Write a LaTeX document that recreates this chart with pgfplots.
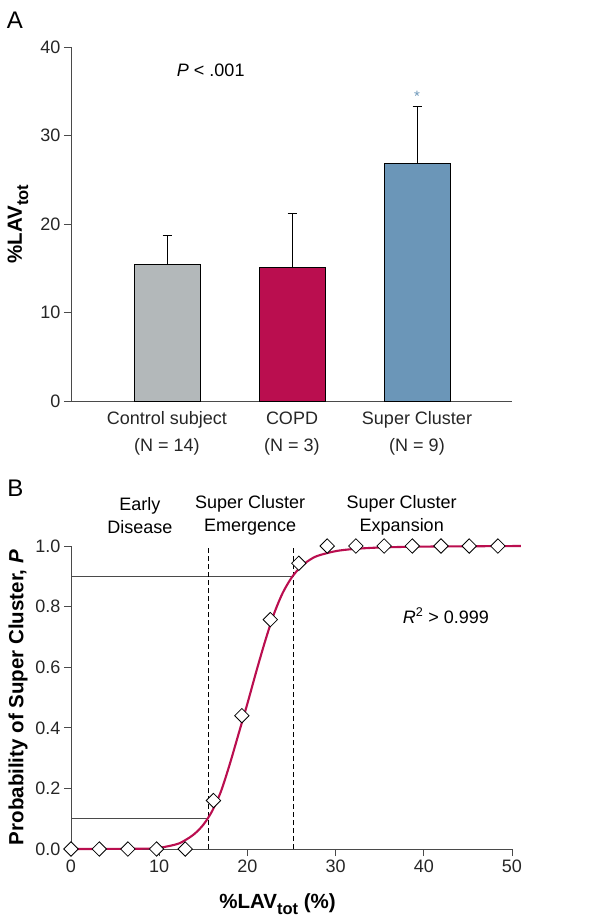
\documentclass[border=0pt]{standalone}
\usepackage{fontspec}
\setmainfont{Liberation Sans}
\usepackage{pgfplots}
\pgfplotsset{compat=1.18}
\definecolor{ctrlgray}{HTML}{B3B8BA}
\definecolor{copdred}{HTML}{BA0E4F}
\definecolor{scblue}{HTML}{6B96B8}
\definecolor{axisgray}{HTML}{4A4A4A}
\newcommand{\subtot}{\raisebox{-0.3em}{\fontsize{16.5}{16.5}\selectfont\bfseries tot}}

\begin{document}
\begin{tikzpicture}
\useasboundingbox (0pt,0pt) rectangle (599pt,-917pt);
\pgfplotsset{
    panel/.style={
        scale only axis,
        axis lines=left,
        axis line style={-, axisgray, line width=0.9pt},
        tick align=outside,
        major tick length=7pt,
        tick style={axisgray, line width=0.9pt},
        tick label style={font=\fontsize{18}{22}\selectfont, text=black!85},
        label style={font=\fontsize{20.5}{24}\selectfont\bfseries},
        /pgf/number format/assume math mode=true,
        enlargelimits=false,
    }
}
\node[font=\fontsize{24}{24}\selectfont] at (15pt,-20pt) {A};
\node[font=\fontsize{24}{24}\selectfont] at (15.5pt,-488.5pt) {B};

% Panel A: bar chart
\begin{axis}[
    panel,
    at={(71pt,-401pt)}, anchor=south west,
    width=441pt, height=354pt,
    xmin=0.232, xmax=3.76,
    ymin=0, ymax=40,
    ytick={0,10,20,30,40},
    xtick={1,2,3},
    xtick style={draw=none},
    xticklabels={{Control subject\\(N = 14)},{COPD\\(N = 3)},{Super Cluster\\(N = 9)}},
    xticklabel style={align=center, font=\fontsize{18}{27}\selectfont},
    ylabel={\%LAV\subtot},
    ylabel style={at={(axis description cs:0,0.5)}, anchor=center, yshift=53pt},
    clip=false,
]
\addplot[ybar, bar width=66pt, bar shift=0pt, fill=ctrlgray, draw=black, line width=0.8pt]
    coordinates {(1,15.45)};
\addplot[ybar, bar width=66pt, bar shift=0pt, fill=copdred, draw=black, line width=0.8pt]
    coordinates {(2,15.14)};
\addplot[ybar, bar width=66pt, bar shift=0pt, fill=scblue, draw=black, line width=0.8pt]
    coordinates {(3,26.86)};
% error bars (upper half only)
\addplot[black, line width=0.8pt] coordinates {(1,15.45) (1,18.7)};
\addplot[black, line width=0.8pt] coordinates {(0.964,18.7) (1.036,18.7)};
\addplot[black, line width=0.8pt] coordinates {(2,15.14) (2,21.24)};
\addplot[black, line width=0.8pt] coordinates {(1.964,21.24) (2.036,21.24)};
\addplot[black, line width=0.8pt] coordinates {(3,26.86) (3,33.33)};
\addplot[black, line width=0.8pt] coordinates {(2.964,33.33) (3.036,33.33)};
\node[text=scblue, font=\fontsize{15}{15}\selectfont] at (axis cs:3,34.4) {*};
\node[font=\fontsize{18}{22}\selectfont] at (axis cs:1.35,37.4) {\textit{P} < .001};
\end{axis}

% Panel B: logistic fit
\begin{axis}[
    panel,
    at={(71pt,-849pt)}, anchor=south west,
    width=441pt, height=303pt,
    xmin=0, xmax=50,
    ymin=0, ymax=1,
    xtick={0,10,20,30,40,50},
    ytick={0,0.2,0.4,0.6,0.8,1.0},
    yticklabel style={/pgf/number format/.cd, fixed, fixed zerofill, precision=1},
    xlabel={\%LAV\subtot{} (\%)},
    xlabel style={at={(axis description cs:0.5,0)}, anchor=base, yshift=-59pt, xshift=-14pt},
    ylabel={Probability of Super Cluster, \textit{P}},
    ylabel style={at={(axis description cs:0,0.5)}, anchor=center, yshift=53pt},
    clip=false,
]
\addplot[axisgray, line width=1pt] coordinates {(0,0.9) (25.2,0.9)};
\addplot[axisgray, line width=1pt] coordinates {(0,0.1) (15.6,0.1)};
\addplot[black, dash pattern=on 5pt off 3pt, line width=0.7pt] coordinates {(15.6,0) (15.6,1)};
\addplot[black, dash pattern=on 5pt off 3pt, line width=0.7pt] coordinates {(25.2,0) (25.2,1)};
\addplot[copdred, line width=2.1pt, smooth] coordinates {
    (0,0) (8,0.001) (10,0.004) (12,0.016) (13,0.03) (14,0.05) (15,0.08)
    (16,0.125) (17,0.19) (18,0.28) (19,0.38) (20,0.48) (21,0.585)
    (22,0.685) (23,0.775) (24,0.845) (25,0.895) (26,0.93) (27,0.953)
    (28,0.968) (30,0.983) (32,0.99) (35,0.995) (40,0.998) (51,1.0)
};
\addplot[only marks, mark=square*, mark size=5.1pt,
    mark options={rotate=45, fill=white, draw=black, line width=0.8pt}] coordinates {
    (0,0) (3.21,0) (6.45,0) (9.7,0) (12.95,0) (16.15,0.16) (19.37,0.44)
    (22.6,0.757) (25.83,0.943) (29.05,1.0) (32.3,1.0) (35.5,1.0)
    (38.7,1.0) (41.95,1.0) (45.15,1.0) (48.4,1.0)
};
\node[align=center, font=\fontsize{18}{23}\selectfont] at (axis cs:7.8,1.10) {Early\\Disease};
\node[align=center, font=\fontsize{18}{23}\selectfont] at (axis cs:20.3,1.10) {Super Cluster\\Emergence};
\node[align=center, font=\fontsize{18}{23}\selectfont] at (axis cs:37.5,1.10) {Super Cluster\\Expansion};
\node[font=\fontsize{18}{22}\selectfont] at (axis cs:42.5,0.77) {\textit{R}\textsuperscript{2} > 0.999};
\end{axis}
\end{tikzpicture}
\end{document}
